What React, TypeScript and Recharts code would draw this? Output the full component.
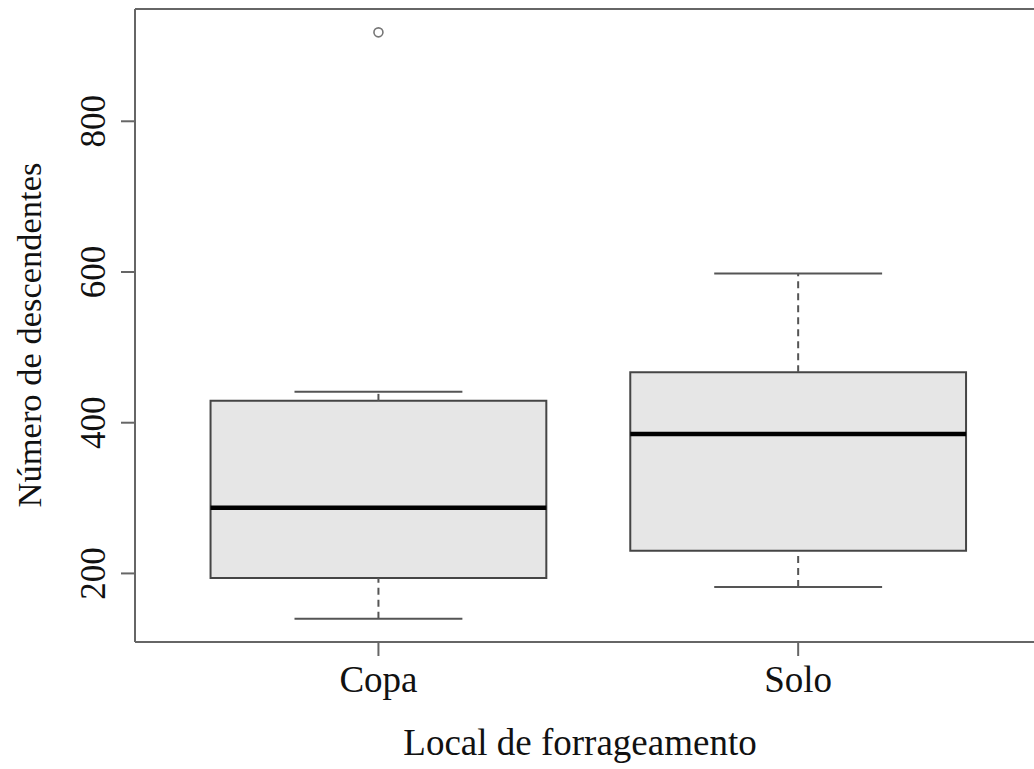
import React from "react";
import {
  ComposedChart,
  XAxis,
  YAxis,
  ReferenceArea,
  ReferenceLine,
  Scatter,
} from "recharts";

// ---- data ----
const categories = ["Copa", "Solo"];
const whiskerLow = [140, 182];
const quartile1 = [194, 230];
const medians = [287, 385];
const quartile3 = [429, 467];
const whiskerHigh = [441, 598];
const outlierCategory = [0];
const outlierValue = [918];
const yTicks = [200, 400, 600, 800];
const xTicks = [1, 2];

const X_DOMAIN: [number, number] = [0.42, 2.58];
const Y_DOMAIN: [number, number] = [109, 949];
const BOX_HALF = 0.4;
const CAP_HALF = 0.2;

const FONT = '"Liberation Serif", "Times New Roman", Times, serif';
const FRAME = "#666";
const BOX_STROKE = "#454545";

const outlierData = outlierCategory.map((c, i) => ({ x: c + 1, y: outlierValue[i] }));

const YTick = (props: any) => {
  const { y, payload } = props;
  return (
    <text
      x={105}
      y={y}
      transform={`rotate(-90 105 ${y})`}
      textAnchor="middle"
      fontFamily={FONT}
      fontSize={35}
      fill="#111"
    >
      {payload.value}
    </text>
  );
};

const XTick = (props: any) => {
  const { x, payload } = props;
  return (
    <text x={x} y={692} textAnchor="middle" fontFamily={FONT} fontSize={37} fill="#111">
      {categories[payload.value - 1]}
    </text>
  );
};

const OutlierShape = (props: any) => (
  <circle cx={props.cx} cy={props.cy} r={4.5} fill="none" stroke="#777" strokeWidth={1.6} />
);

export default function App() {
  return (
    <div
      style={{
        position: "fixed",
        left: 0,
        top: 0,
        width: 1034,
        height: 769,
        overflow: "hidden",
        background: "#fff",
      }}
    >
      <ComposedChart
        width={1060}
        height={769}
        margin={{ top: 9, right: 18.4, bottom: 0, left: 0 }}
      >
        <XAxis
          type="number"
          dataKey="x"
          domain={X_DOMAIN}
          allowDataOverflow
          ticks={xTicks}
          interval={0}
          height={127}
          tickSize={14}
          axisLine={{ stroke: FRAME, strokeWidth: 2 }}
          tickLine={{ stroke: FRAME, strokeWidth: 2 }}
          tick={<XTick />}
          label={{
            content: () => (
              <text x={580} y={755} textAnchor="middle" fontFamily={FONT} fontSize={37} fill="#111">
                Local de forrageamento
              </text>
            ),
          }}
        />
        <YAxis
          type="number"
          dataKey="y"
          domain={Y_DOMAIN}
          allowDataOverflow
          ticks={yTicks}
          interval={0}
          width={135}
          tickSize={14}
          axisLine={{ stroke: FRAME, strokeWidth: 2 }}
          tickLine={{ stroke: FRAME, strokeWidth: 2 }}
          tick={<YTick />}
          label={{
            content: () => (
              <text
                x={41}
                y={335}
                transform="rotate(-90 41 335)"
                textAnchor="middle"
                fontFamily={FONT}
                fontSize={34.5}
                fill="#111"
              >
                Número de descendentes
              </text>
            ),
          }}
        />

        {/* frame top / right */}
        <ReferenceLine y={Y_DOMAIN[1]} stroke={FRAME} strokeWidth={2} />
        <ReferenceLine x={X_DOMAIN[1]} stroke={FRAME} strokeWidth={2} />

        {categories.map((c, i) => (
          <ReferenceArea
            key={`box-${c}`}
            x1={i + 1 - BOX_HALF}
            x2={i + 1 + BOX_HALF}
            y1={quartile1[i]}
            y2={quartile3[i]}
            fill="#e6e6e6"
            fillOpacity={1}
            stroke={BOX_STROKE}
            strokeWidth={2}
          />
        ))}

        {categories.map((c, i) => (
          <ReferenceLine
            key={`wu-${c}`}
            segment={[
              { x: i + 1, y: quartile3[i] },
              { x: i + 1, y: whiskerHigh[i] },
            ]}
            stroke="#555"
            strokeWidth={2}
            strokeDasharray="7 5"
          />
        ))}
        {categories.map((c, i) => (
          <ReferenceLine
            key={`wl-${c}`}
            segment={[
              { x: i + 1, y: whiskerLow[i] },
              { x: i + 1, y: quartile1[i] },
            ]}
            stroke="#555"
            strokeWidth={2}
            strokeDasharray="7 5"
          />
        ))}
        {categories.map((c, i) => (
          <ReferenceLine
            key={`cu-${c}`}
            segment={[
              { x: i + 1 - CAP_HALF, y: whiskerHigh[i] },
              { x: i + 1 + CAP_HALF, y: whiskerHigh[i] },
            ]}
            stroke="#555"
            strokeWidth={2}
          />
        ))}
        {categories.map((c, i) => (
          <ReferenceLine
            key={`cl-${c}`}
            segment={[
              { x: i + 1 - CAP_HALF, y: whiskerLow[i] },
              { x: i + 1 + CAP_HALF, y: whiskerLow[i] },
            ]}
            stroke="#555"
            strokeWidth={2}
          />
        ))}
        {categories.map((c, i) => (
          <ReferenceLine
            key={`med-${c}`}
            segment={[
              { x: i + 1 - BOX_HALF, y: medians[i] },
              { x: i + 1 + BOX_HALF, y: medians[i] },
            ]}
            stroke="#000"
            strokeWidth={4.5}
          />
        ))}

        <Scatter data={outlierData} dataKey="y" shape={<OutlierShape />} isAnimationActive={false} />
      </ComposedChart>
    </div>
  );
}
